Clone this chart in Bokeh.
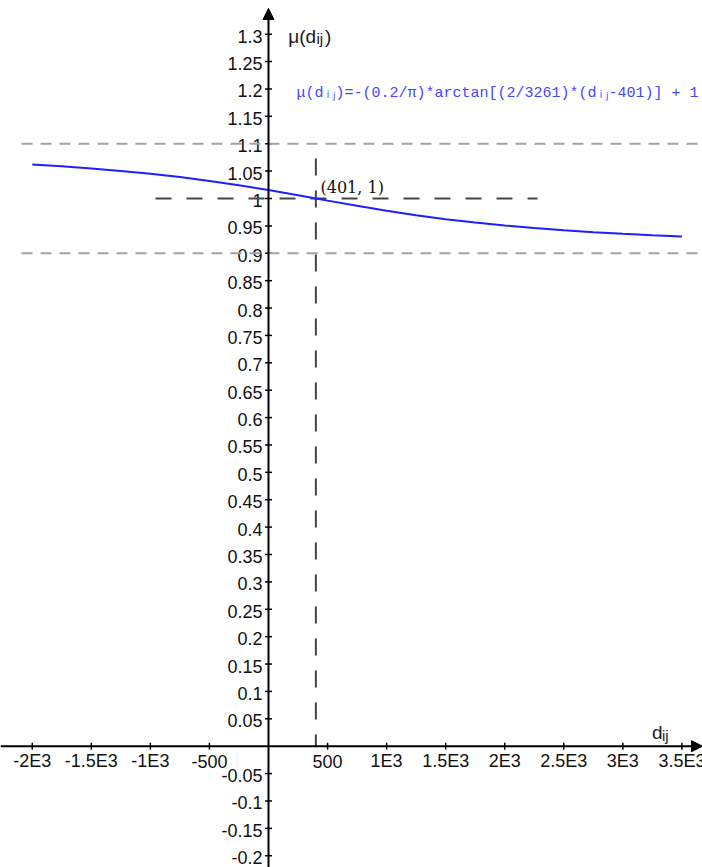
import math
from bokeh.plotting import figure
from bokeh.models import Range1d, Arrow, NormalHead
from bokeh.core.properties import value
from bokeh.embed import file_html
from bokeh.resources import INLINE

# ---------------- data ----------------
d_vals = [-2000, -1750, -1500, -1250, -1000, -750, -500, -250, 0, 250, 401, 500,
          750, 1000, 1250, 1500, 1750, 2000, 2250, 2500, 2750, 3000, 3250, 3500]
mu_vals = [1.0620, 1.0587, 1.0549, 1.0504, 1.0452, 1.0391, 1.0321, 1.0242, 1.0154,
           1.0059, 1.0000, 0.9961, 0.9866, 0.9776, 0.9694, 0.9622, 0.9560, 0.9506,
           0.9460, 0.9420, 0.9386, 0.9357, 0.9331, 0.9308]

point_d = [401]
point_mu = [1.0]
point_label = ["(401, 1)"]

band_levels = [1.1, 0.9]

x_ticks = [-2000, -1500, -1000, -500, 500, 1000, 1500, 2000, 2500, 3000, 3500]
x_tick_labels = ["-2E3", "-1.5E3", "-1E3", "-500", "500", "1E3", "1.5E3", "2E3",
                 "2.5E3", "3E3", "3.5E3"]

y_ticks = [1.3, 1.25, 1.2, 1.15, 1.1, 1.05, 1.0, 0.95, 0.9, 0.85, 0.8, 0.75, 0.7,
           0.65, 0.6, 0.55, 0.5, 0.45, 0.4, 0.35, 0.3, 0.25, 0.2, 0.15, 0.1, 0.05,
           -0.05, -0.1, -0.15, -0.2]
y_tick_labels = ["1.3", "1.25", "1.2", "1.15", "1.1", "1.05", "1", "0.95", "0.9",
                 "0.85", "0.8", "0.75", "0.7", "0.65", "0.6", "0.55", "0.5", "0.45",
                 "0.4", "0.35", "0.3", "0.25", "0.2", "0.15", "0.1", "0.05",
                 "-0.05", "-0.1", "-0.15", "-0.2"]

formula = "μ(dᵢⱼ)=-(0.2/π)*arctan[(2/3261)*(dᵢⱼ-401)] + 1"

# ---------------- layout helpers (page pixel -> data) ----------------
OX, OY = 268.0, 745.7      # page pixel of the origin
SX, SY = 0.11812, 547.7    # pixels per data unit


def X(px):
    return (px - OX) / SX


def Y(py):
    return (OY - py) / SY


W, H = 702, 867
x_lo, x_hi = X(0), X(W)
y_hi, y_lo = Y(0), Y(H)

p = figure(width=W, height=H, x_range=Range1d(x_lo, x_hi), y_range=Range1d(y_lo, y_hi),
           output_backend="svg", toolbar_location=None, x_axis_type=None, y_axis_type=None,
           min_border=0, min_border_left=0, min_border_right=0, min_border_top=0,
           min_border_bottom=0, outline_line_color=None,
           background_fill_color="white", border_fill_color="white")
p.grid.visible = False

LAB_FONT = value("Liberation Sans")

# tick labels
p.text(x=[0] * len(y_ticks), y=y_ticks, text=y_tick_labels, text_font=LAB_FONT,
       text_font_size="18px", text_align="right", text_baseline="middle",
       x_offset=-6, y_offset=2, text_color="#111111")
p.text(x=x_ticks, y=[0] * len(x_ticks), text=x_tick_labels, text_font=LAB_FONT,
       text_font_size="18px", text_align="center", text_baseline="middle",
       y_offset=15, text_color="#111111")

# ticks
p.scatter(x=[0] * len(y_ticks), y=y_ticks, marker="dash", size=7,
          line_color="black", line_width=1.5)
p.scatter(x=x_ticks, y=[0] * len(x_ticks), marker="dash", size=7, angle=math.pi / 2,
          line_color="black", line_width=1.5)

# gray dashed band lines
for lvl in band_levels:
    p.line(x=[X(21), x_hi], y=[lvl, lvl], line_color="#a3a3a3", line_width=2,
           line_dash="11 8")

# black dashed guides through the point
p.line(x=[X(155), X(537)], y=[point_mu[0], point_mu[0]], line_color="#444444",
       line_width=2, line_dash="16 15")
p.line(x=[point_d[0], point_d[0]], y=[Y(158), 0], line_color="#444444",
       line_width=2, line_dash="17 15")

# curve
p.line(x=d_vals, y=mu_vals, line_color="#1f1fff", line_width=2)

# point label
p.text(x=[X(320)], y=[Y(187)], text=point_label, text_font=value("DejaVu Serif"),
       text_font_size="16px", text_align="left", text_baseline="middle",
       text_color="#111111")

# formula
p.text(x=[X(296)], y=[Y(93)], text=[formula], text_font=value("Liberation Mono"),
       text_font_size="15px", text_align="left", text_baseline="middle",
       text_color="#4646ff")

# axis titles
p.text(x=[X(287.7)], y=[Y(36)], text=["μ(d"], text_font=LAB_FONT,
       text_font_size="19px", text_align="left", text_baseline="alphabetic",
       text_color="#1a1a1a")
p.text(x=[X(316)], y=[Y(37.5)], text=["ij"], text_font=LAB_FONT,
       text_font_size="15px", text_align="left", text_baseline="alphabetic",
       text_color="#1a1a1a")
p.text(x=[X(324.5)], y=[Y(36)], text=[")"], text_font=LAB_FONT,
       text_font_size="19px", text_align="left", text_baseline="alphabetic",
       text_color="#1a1a1a")
p.text(x=[X(651.5)], y=[Y(732)], text=["d"], text_font=LAB_FONT,
       text_font_size="19px", text_align="left", text_baseline="alphabetic",
       text_color="#1a1a1a")
p.text(x=[X(661.5)], y=[Y(735)], text=["ij"], text_font=LAB_FONT,
       text_font_size="15px", text_align="left", text_baseline="alphabetic",
       text_color="#1a1a1a")

# axes with arrow heads
p.add_layout(Arrow(end=NormalHead(size=11, fill_color="black", line_color="black"),
                   x_start=x_lo, y_start=0, x_end=x_hi, y_end=0,
                   line_color="black", line_width=2))
p.add_layout(Arrow(end=NormalHead(size=11, fill_color="black", line_color="black"),
                   x_start=0, y_start=y_lo, x_end=0, y_end=Y(8),
                   line_color="black", line_width=2))

open("out.html", "w").write(file_html(p, INLINE))
